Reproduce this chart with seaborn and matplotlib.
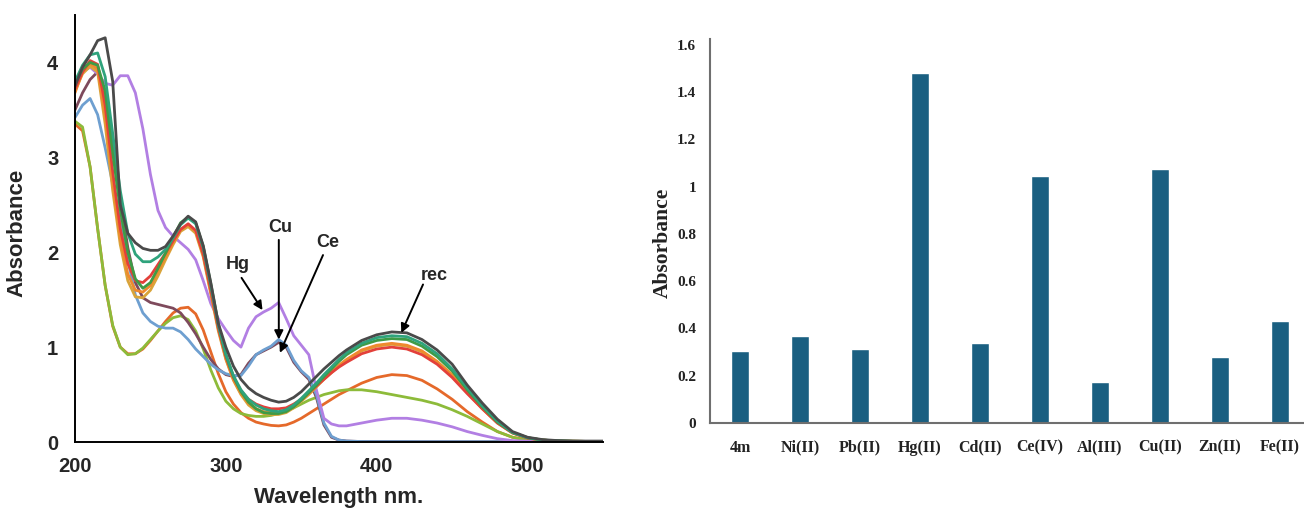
import matplotlib
matplotlib.use("Agg")
import matplotlib.pyplot as plt
from matplotlib.ticker import MultipleLocator, FuncFormatter
import pandas as pd
import seaborn as sns

# ---------------- UV-Vis spectra (left panel) ----------------
wavelength = list(range(200, 381, 5)) + list(range(390, 551, 10))

abs_rec = [3.75, 3.95, 4.08, 4.23, 4.26, 3.80, 2.50, 2.20, 2.10, 2.04, 2.02, 2.02, 2.06, 2.17, 2.30, 2.38,
           2.32, 2.07, 1.68, 1.25, 1.00, 0.80, 0.66, 0.57, 0.51, 0.47, 0.44, 0.42, 0.43, 0.47, 0.53, 0.61,
           0.69, 0.77, 0.84, 0.91, 0.97,
           1.07, 1.13, 1.16, 1.15, 1.08, 0.97, 0.82, 0.60, 0.41, 0.24, 0.11, 0.05, 0.025, 0.015, 0.01, 0.01, 0.01]
abs_teal = [3.80, 3.97, 4.08, 4.10, 3.85, 3.25, 2.65, 2.20, 1.98, 1.90, 1.90, 1.95, 2.03, 2.15, 2.29, 2.36,
            2.30, 2.05, 1.65, 1.23, 0.92, 0.70, 0.55, 0.45, 0.39, 0.35, 0.33, 0.32, 0.34, 0.39, 0.46, 0.54,
            0.62, 0.71, 0.79, 0.87, 0.94,
            1.04, 1.10, 1.12, 1.11, 1.04, 0.93, 0.77, 0.57, 0.38, 0.22, 0.10, 0.045, 0.02, 0.012, 0.008, 0.006, 0.005]
abs_green = [3.78, 3.93, 4.00, 3.97, 3.70, 3.05, 2.45, 2.00, 1.72, 1.62, 1.68, 1.83, 1.99, 2.16, 2.31, 2.37,
             2.31, 2.06, 1.67, 1.25, 0.92, 0.69, 0.53, 0.42, 0.35, 0.31, 0.30, 0.30, 0.32, 0.37, 0.44, 0.52,
             0.60, 0.69, 0.77, 0.85, 0.92,
             1.02, 1.07, 1.09, 1.08, 1.01, 0.90, 0.75, 0.55, 0.37, 0.21, 0.10, 0.045, 0.02, 0.012, 0.008, 0.006, 0.005]
abs_red = [3.72, 3.90, 4.02, 3.98, 3.55, 2.85, 2.25, 1.88, 1.70, 1.68, 1.75, 1.87, 1.99, 2.12, 2.24, 2.30,
           2.23, 1.98, 1.60, 1.20, 0.90, 0.68, 0.54, 0.45, 0.40, 0.37, 0.35, 0.35, 0.36, 0.40, 0.45, 0.52,
           0.59, 0.66, 0.73, 0.79, 0.84,
           0.93, 0.98, 1.00, 0.98, 0.92, 0.82, 0.68, 0.51, 0.35, 0.20, 0.095, 0.04, 0.02, 0.01, 0.008, 0.006, 0.005]
abs_gold = [3.70, 3.88, 3.96, 3.90, 3.35, 2.65, 2.08, 1.70, 1.53, 1.52, 1.60, 1.75, 1.92, 2.08, 2.22, 2.27,
            2.20, 1.95, 1.56, 1.17, 0.87, 0.65, 0.50, 0.39, 0.33, 0.30, 0.29, 0.29, 0.31, 0.36, 0.43, 0.50,
            0.58, 0.66, 0.73, 0.80, 0.86,
            0.96, 1.01, 1.03, 1.01, 0.95, 0.84, 0.70, 0.52, 0.35, 0.20, 0.095, 0.04, 0.02, 0.01, 0.008, 0.006, 0.005]
abs_orange = [3.68, 3.90, 3.99, 3.93, 3.45, 2.75, 2.15, 1.77, 1.60, 1.58, 1.65, 1.80, 1.95, 2.10, 2.24, 2.29,
              2.22, 1.97, 1.58, 1.19, 0.88, 0.66, 0.51, 0.41, 0.35, 0.32, 0.31, 0.31, 0.33, 0.38, 0.44, 0.51,
              0.59, 0.67, 0.74, 0.81, 0.87,
              0.97, 1.02, 1.04, 1.02, 0.96, 0.85, 0.71, 0.53, 0.36, 0.21, 0.10, 0.045, 0.02, 0.01, 0.008, 0.006, 0.005]
abs_ce = [3.50, 3.68, 3.82, 3.90, 3.70, 3.10, 2.55, 2.05, 1.68, 1.52, 1.47, 1.45, 1.43, 1.41, 1.36, 1.26,
          1.14, 1.00, 0.87, 0.77, 0.71, 0.69, 0.71, 0.83, 0.92, 0.96, 1.00, 1.05, 1.00, 0.84, 0.74, 0.66,
          0.47, 0.18, 0.05, 0.02, 0.01,
          0.005, 0.004, 0.004, 0.004, 0.003, 0.003, 0.003, 0.003, 0.003, 0.003, 0.003, 0.003, 0.003, 0.003, 0.003, 0.003, 0.003]
abs_cu = [3.42, 3.55, 3.62, 3.45, 3.10, 2.72, 2.32, 1.92, 1.55, 1.36, 1.27, 1.22, 1.20, 1.20, 1.16, 1.08,
          0.98, 0.90, 0.82, 0.76, 0.72, 0.70, 0.70, 0.80, 0.92, 0.97, 1.01, 1.08, 1.02, 0.86, 0.75, 0.68,
          0.50, 0.20, 0.06, 0.02, 0.01,
          0.005, 0.004, 0.004, 0.004, 0.003, 0.003, 0.003, 0.003, 0.003, 0.003, 0.003, 0.003, 0.003, 0.003, 0.003, 0.003, 0.003]
abs_hg = [3.82, 3.90, 3.95, 3.88, 3.78, 3.76, 3.86, 3.86, 3.68, 3.30, 2.82, 2.44, 2.26, 2.17, 2.10, 2.03,
          1.92, 1.70, 1.46, 1.30, 1.18, 1.07, 1.00, 1.20, 1.32, 1.37, 1.41, 1.47, 1.30, 1.12, 1.02, 0.92,
          0.55, 0.25, 0.19, 0.17, 0.17,
          0.20, 0.23, 0.25, 0.25, 0.23, 0.20, 0.16, 0.11, 0.07, 0.035, 0.015, 0.008, 0.005, 0.004, 0.003, 0.003, 0.003]
abs_orange_dark = [3.35, 3.28, 2.90, 2.25, 1.65, 1.22, 1.00, 0.93, 0.93, 0.98, 1.07, 1.17, 1.27, 1.36, 1.41, 1.42,
                   1.35, 1.18, 0.95, 0.72, 0.53, 0.40, 0.31, 0.25, 0.21, 0.19, 0.175, 0.17, 0.18, 0.21, 0.25, 0.30,
                   0.35, 0.40, 0.45, 0.50, 0.54,
                   0.62, 0.68, 0.71, 0.70, 0.65, 0.56, 0.45, 0.32, 0.21, 0.11, 0.05, 0.02, 0.01, 0.006, 0.004, 0.003, 0.003]
abs_lime = [3.38, 3.32, 2.90, 2.25, 1.65, 1.23, 1.00, 0.92, 0.93, 0.99, 1.08, 1.17, 1.25, 1.31, 1.33, 1.29,
            1.17, 0.98, 0.76, 0.57, 0.43, 0.35, 0.30, 0.28, 0.27, 0.27, 0.28, 0.30, 0.33, 0.36, 0.40, 0.44,
            0.47, 0.50, 0.52, 0.54, 0.55,
            0.55, 0.53, 0.50, 0.47, 0.44, 0.40, 0.34, 0.27, 0.19, 0.11, 0.05, 0.02, 0.01, 0.006, 0.004, 0.003, 0.003]

spectra = {
    "orange_dark": abs_orange_dark,
    "lime": abs_lime,
    "ce": abs_ce,
    "cu": abs_cu,
    "hg": abs_hg,
    "gold": abs_gold,
    "orange": abs_orange,
    "red": abs_red,
    "green": abs_green,
    "teal": abs_teal,
    "rec": abs_rec,
}
palette = {
    "orange_dark": "#e5692a",
    "lime": "#8dbb3a",
    "ce": "#7e4a5c",
    "cu": "#6e9fd0",
    "hg": "#b27fe3",
    "gold": "#d9a43a",
    "orange": "#ef8a2e",
    "red": "#e3403a",
    "green": "#3f9b46",
    "teal": "#2fa37c",
    "rec": "#4a4a4a",
}

# ---------------- selectivity bars (right panel) ----------------
ions = ["4m", "Ni(II)", "Pb(II)", "Hg(II)", "Cd(II)", "Ce(IV)", "Al(III)", "Cu(II)", "Zn(II)", "Fe(II)"]
ion_absorbance = [0.303, 0.37, 0.312, 1.48, 0.34, 1.045, 0.174, 1.075, 0.278, 0.431]

rows = []
for name, vals in spectra.items():
    for wl, a in zip(wavelength, vals):
        rows.append({"wavelength": wl, "absorbance": a, "curve": name})
spec_df = pd.DataFrame(rows)
bar_df = pd.DataFrame({"ion": ions, "absorbance": ion_absorbance})

sns.set_style("white")
plt.rcParams["font.family"] = ["Liberation Sans", "DejaVu Sans"]
plt.rcParams["lines.solid_joinstyle"] = "round"
plt.rcParams["lines.solid_capstyle"] = "round"

W, H = 1304, 511
fig = plt.figure(figsize=(W / 100, H / 100), dpi=100)

# left panel
ax1 = fig.add_axes([75 / W, (H - 442) / H, 528 / W, 427 / H])
sns.lineplot(data=spec_df, x="wavelength", y="absorbance", hue="curve",
             hue_order=list(spectra.keys()), palette=palette, sort=False,
             estimator=None, linewidth=2.0, legend=False, ax=ax1)
ax1.set_xlim(200, 550)
ax1.set_ylim(0, 4.5)
ax1.xaxis.set_major_locator(MultipleLocator(100))
ax1.xaxis.set_minor_locator(MultipleLocator(50))
ax1.yaxis.set_major_locator(MultipleLocator(1))
ax1.yaxis.set_minor_locator(MultipleLocator(0.5))
for side in ("top", "right"):
    ax1.spines[side].set_visible(False)
for side in ("left", "bottom"):
    ax1.spines[side].set_color("black")
    ax1.spines[side].set_linewidth(1.4)
ax1.tick_params(which="both", direction="out", length=6, width=1.3, color="black")
ax1.tick_params(axis="x", which="major", pad=5, labelsize=14.5)
ax1.tick_params(axis="y", which="major", pad=6, labelsize=14.5)
for lab in ax1.get_xticklabels() + ax1.get_yticklabels():
    lab.set_fontweight("bold")
ax1.set_xlabel("Wavelength nm.", fontsize=16, fontweight="bold")
ax1.set_ylabel("Absorbance", fontsize=16, fontweight="bold")
ax1.xaxis.set_label_coords(0.5, -0.105)
ax1.yaxis.set_label_coords(-0.09, 0.49)

arrow_kw = dict(arrowstyle="-|>", color="black", lw=1.4, mutation_scale=13,
                shrinkA=0, shrinkB=0)
labels = [
    ("Hg", (308.2, 1.87), (310.4, 1.73), (324.3, 1.39)),
    ("Cu", (335.8, 2.26), (335.1, 2.13), (335.1, 1.08)),
    ("Ce", (367.8, 2.10), (364.4, 1.97), (335.8, 0.94)),
    ("rec", (438.4, 1.75), (430.7, 1.66), (416.3, 1.15)),
]
for text, tpos, start, end in labels:
    ax1.text(*tpos, text, fontsize=13, fontweight="bold", ha="center", va="center")
    ax1.annotate("", xy=end, xytext=start, arrowprops=arrow_kw)

# right panel
ax2 = fig.add_axes([710 / W, (H - 423) / H, 600 / W, 384 / H])
sns.barplot(data=bar_df, x="ion", y="absorbance", color="#1a5f81", saturation=1,
            width=0.3, ax=ax2)
ax2.set_xlim(-0.5, 9.5)
ax2.set_ylim(0, 1.625)
ax2.set_yticks([0, 0.2, 0.4, 0.6, 0.8, 1.0, 1.2, 1.4, 1.6])
ax2.yaxis.set_major_formatter(FuncFormatter(lambda v, _: f"{v:g}"))
for side in ("top", "right"):
    ax2.spines[side].set_visible(False)
for side in ("left", "bottom"):
    ax2.spines[side].set_color("#6f6f6f")
    ax2.spines[side].set_linewidth(1.5)
ax2.tick_params(axis="both", length=0)
ax2.tick_params(axis="y", pad=10, labelsize=11)
ax2.tick_params(axis="x", pad=12, labelsize=11.5)
serif = ["Liberation Serif", "DejaVu Serif"]
for lab in ax2.get_xticklabels() + ax2.get_yticklabels():
    lab.set_fontfamily(serif)
    lab.set_fontweight("bold")
    lab.set_color("#222222")
ax2.set_xlabel("")
ax2.set_ylabel("Absorbance", fontsize=15.5, fontweight="bold", family=serif, color="#222222")
ax2.yaxis.set_label_coords(-0.062, 0.47)

fig.savefig("out.png", dpi=100)
